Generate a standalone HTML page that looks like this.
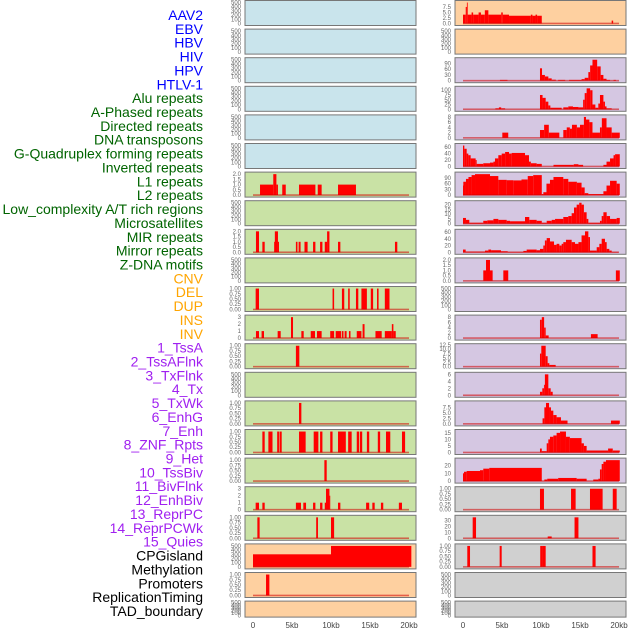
<!DOCTYPE html>
<html><head><meta charset="utf-8">
<style>
html,body{margin:0;padding:0;background:#fff;}
svg{display:block;font-family:"Liberation Sans",sans-serif;}
</style></head>
<body>
<svg id="chart" width="630" height="630" viewBox="0 0 630 630" xmlns="http://www.w3.org/2000/svg"></svg>
<script>
const labelNames = ["AAV2","EBV","HBV","HIV","HPV","HTLV-1","Alu repeats","A-Phased repeats","Directed repeats","DNA transposons","G-Quadruplex forming repeats","Inverted repeats","L1 repeats","L2 repeats","Low_complexity A/T rich regions","Microsatellites","MIR repeats","Mirror repeats","Z-DNA motifs","CNV","DEL","DUP","INS","INV","1_TssA","2_TssAFlnk","3_TxFlnk","4_Tx","5_TxWk","6_EnhG","7_Enh","8_ZNF_Rpts","9_Het","10_TssBiv","11_BivFlnk","12_EnhBiv","13_ReprPC","14_ReprPCWk","15_Quies","CPGisland","Methylation","Promoters","ReplicationTiming","TAD_boundary"];
const labelColors = ["#0000ff","#0000ff","#0000ff","#0000ff","#0000ff","#0000ff","#006400","#006400","#006400","#006400","#006400","#006400","#006400","#006400","#006400","#006400","#006400","#006400","#006400","#ffa500","#ffa500","#ffa500","#ffa500","#ffa500","#a020f0","#a020f0","#a020f0","#a020f0","#a020f0","#a020f0","#a020f0","#a020f0","#a020f0","#a020f0","#a020f0","#a020f0","#a020f0","#a020f0","#a020f0","#000","#000","#000","#000","#000"];
const panelBg = ["#c9e4ec","#c9e4ec","#c9e4ec","#c9e4ec","#c9e4ec","#c9e4ec","#c9e2a5","#c9e2a5","#c9e2a5","#c9e2a5","#c9e2a5","#c9e2a5","#c9e2a5","#c9e2a5","#c9e2a5","#c9e2a5","#c9e2a5","#c9e2a5","#c9e2a5","#fed0a0","#fed0a0","#fed0a0",
 "#fed0a0","#fed0a0","#d5c7e2","#d5c7e2","#d5c7e2","#d5c7e2","#d5c7e2","#d5c7e2","#d5c7e2","#d5c7e2","#d5c7e2","#d5c7e2","#d5c7e2","#d5c7e2","#d5c7e2","#d5c7e2","#d5c7e2","#d0d0d0","#d0d0d0","#d0d0d0","#d0d0d0","#d0d0d0"];
const T500=["0","100","200","300","400","500"], T1=["0.00","0.25","0.50","0.75","1.00"], T2=["0.0","0.5","1.0","1.5","2.0"], T3=["0","1","2","3"];
const panelTicks = [T500,T500,T500,T500,T500,T500,T2,T500,T2,T500,T1,T3,T1,T500,T1,T1,T1,T3,T1,T500,T1,T500,
 ["0.0","2.5","5.0","7.5"],T500,["0","30","60","90"],["0","25","50","75","100"],["0","2","4","6","8"],["0","20","40","60"],["0","30","60","90"],["0","5","10","15","20"],["0","20","40","60"],T2,T500,["0","2","4","6","8"],["0.0","2.5","5.0","7.5","10.0","12.5"],["0","2","4","6"],["0.0","2.5","5.0","7.5"],["0","5","10","15"],["0","10","20"],T1,["0","10","20","30"],T1,T500,T500];
const panelSegs = [[],[],[],[],[],[],
 [[0.9,2.6,1],[2.6,3.0,2],[3.0,3.2,1],[3.75,4.2,1],[5.9,8.0,1],[8.3,8.8,1],[10.9,13.2,1]],
 [],
 [[0.38,0.77,2],[1.2,1.5,1],[2.7,2.8,1],[2.8,3.2,2],[3.2,3.33,1],[5.5,5.7,1],[5.85,6.1,1],[6.6,7.0,1],[7.7,8.0,1],[8.6,8.9,1],[9.2,9.5,1],[9.5,9.8,2],[10.9,11.2,1],[18.2,18.5,1]],
 [],
 [[0.34,0.77,1],[10.2,10.4,1],[11.4,11.7,1],[12.2,12.4,1],[13.2,13.5,1],[13.9,14.6,1],[15.1,15.4,1],[15.9,16.1,1],[16.9,17.5,1]],
 [[0.38,0.77,1],[1.1,1.41,1],[3.16,3.55,1],[4.87,5.13,3],[6.2,6.5,1],[7.4,7.95,1],[8.2,8.8,1],[9.9,10.4,1],[10.6,11.3,1],[11.4,11.6,1],[11.75,12.0,1],[12.3,12.5,1],[13.3,13.9,1],[14.05,14.3,2],[15.7,16.5,1],[16.9,17.8,1],[17.8,18.0,2],[18.0,18.3,1]],
 [[5.5,5.94,1]],
 [],
 [[5.9,6.2,1]],
 [[1.2,1.5,1],[1.97,2.5,1],[3.1,3.33,1],[3.4,3.68,1],[5.9,6.75,1],[7.78,8.38,1],[8.6,8.9,1],[9.9,10.2,1],[10.9,11.9,1],[12.2,12.65,1],[13.3,13.6,1],[13.7,14.0,1],[14.6,14.9,1],[16.0,16.3,1],[17.05,17.6,1],[19.1,19.5,1]],
 [[9.15,9.45,1]],
 [[0.34,0.77,1],[1.2,1.5,1],[5.5,6.15,1],[6.45,6.8,1],[7.7,8.0,1],[8.6,8.9,1],[9.2,9.36,1],[9.36,9.8,3],[9.8,9.9,2],[10.9,11.2,1],[14.5,14.9,1],[15.3,15.6,1],[16.4,16.7,1],[18.7,19.1,1]],
 [[0.56,0.85,1],[8.1,8.33,1],[10.0,10.4,1]],
 [[0,10.0,300],[10.0,20.3,500]],
 [[1.67,2.1,1]],
 [],
 [[0,0.35,4],[0.35,0.5,7.5],[0.5,0.6,9.5],[0.6,1.1,4],[1.1,1.3,5],[1.3,2.0,4],[2.0,2.3,5],[2.3,2.8,4],[2.8,3.25,6],[3.25,4.9,4],[4.9,5.1,5],[5.1,5.9,4],[5.9,8.7,3.5],[8.7,8.9,4],[8.9,9.3,3.5],[9.3,9.5,4],[9.5,10.1,3.5],[19.06,19.25,1.3]],
 [],
 [[4.74,5.7,4],[9.87,10.13,65],[10.13,10.5,30],[10.5,10.94,22],[10.94,11.37,12],[11.37,11.9,5],[12.2,13.1,4],[13.6,15.2,4],[15.2,15.6,8],[15.6,16.07,15],[16.07,16.3,45],[16.3,16.6,80],[16.6,17.2,110],[17.2,17.65,75],[17.65,18.0,30],[18.0,18.4,10],[18.4,18.85,4],[19.3,19.6,4]],
 [[4.15,4.6,5],[4.6,4.9,10],[4.9,5.4,5],[9.87,10.2,75],[10.2,10.6,60],[10.6,10.94,40],[10.94,11.2,20],[11.2,12.65,8],[12.86,13.5,10],[13.5,14.1,15],[14.1,14.8,12],[14.8,15.4,10],[15.4,15.6,50],[15.6,15.85,85],[15.85,16.3,110],[16.3,16.6,100],[16.6,16.97,25],[16.97,17.35,8],[17.35,17.56,30],[17.56,18.0,75],[18.0,18.2,40],[18.2,18.4,15],[18.4,19.06,5]],
 [[5.04,5.8,2],[9.87,10.4,3],[10.4,11.0,5],[11.0,12.35,2],[12.86,13.3,3],[13.3,13.7,4],[13.7,13.97,3.5],[13.97,14.6,5],[14.6,15.0,4],[15.0,15.5,5],[15.5,15.77,8],[15.77,16.2,7],[16.2,16.6,6],[16.6,17.56,2],[17.56,17.8,4],[17.8,18.4,7.5],[18.4,19.06,4],[19.06,20.1,2]],
 [[0,0.17,65],[0.17,0.47,55],[0.47,0.68,40],[0.68,0.98,35],[0.98,1.62,25],[1.62,1.75,20],[1.75,2.6,8],[2.6,3.46,10],[3.46,3.9,12],[3.9,4.1,15],[4.1,4.53,25],[4.53,4.96,35],[4.96,5.4,40],[5.4,5.9,45],[5.9,6.24,40],[6.24,7.95,42],[7.95,8.46,35],[8.46,8.7,15],[8.7,9.44,10],[9.44,10.1,8],[11.6,14.2,5],[14.2,14.8,7],[14.8,15.4,5],[18.0,18.4,5],[18.4,18.85,15],[18.85,19.3,25],[19.3,19.5,35],[19.5,20.1,38]],
 [[0,0.04,50],[0.04,0.38,70],[0.38,0.7,85],[0.7,1.1,95],[1.1,1.54,105],[1.54,3.46,110],[3.46,4.53,100],[4.53,5.6,80],[5.6,6.45,78],[6.45,7.5,77],[7.5,8.3,82],[8.3,9.0,100],[9.0,10.1,105],[10.1,10.3,5],[10.3,10.7,15],[10.7,11.15,60],[11.15,11.6,80],[11.6,12.86,95],[12.86,13.5,85],[13.5,14.6,70],[14.6,15.2,65],[15.2,15.6,40],[15.6,16.07,10],[16.07,18.0,5],[18.0,18.4,20],[18.4,18.85,50],[18.85,19.7,75],[19.7,20.1,60]],
 [[0,0.38,6],[0.38,0.81,4],[0.81,2.6,1],[2.6,3.12,3],[3.12,3.9,3.5],[3.9,4.53,5],[4.53,5.6,4],[5.6,6.03,3],[6.03,7.95,2.5],[7.95,8.5,7],[8.5,9.44,4],[9.44,10.1,3],[10.1,10.73,1],[10.73,11.37,3],[11.37,11.8,4],[11.8,12.86,5],[12.86,13.5,7],[13.5,13.93,8],[13.93,14.23,11],[14.23,14.57,17],[14.57,14.9,20],[14.9,15.2,22],[15.2,15.5,20],[15.5,15.85,12],[15.85,16.07,5],[16.07,17.56,1],[17.56,17.78,3],[17.78,18.0,8],[18.0,18.42,12],[18.42,18.85,8],[18.85,19.7,5],[19.7,20.1,6]],
 [[0,0.34,8],[0.34,2.82,2],[2.82,3.25,5],[3.25,3.6,8],[3.6,4.87,6],[4.87,5.73,3],[5.73,7.74,1],[7.74,8.16,4],[8.16,9.44,8],[9.44,9.87,6],[9.87,10.3,10],[10.3,10.5,20],[10.5,10.73,35],[10.73,11.15,42],[11.15,11.67,32],[11.67,12.0,22],[12.0,12.35,25],[12.35,12.65,20],[12.65,12.86,25],[12.86,13.2,30],[13.2,13.93,37],[13.93,14.36,30],[14.36,14.8,25],[14.8,15.2,30],[15.2,15.64,50],[15.64,16.07,62],[16.07,16.28,45],[16.28,17.14,5],[17.14,17.48,15],[17.48,17.78,25],[17.78,18.2,40],[18.2,18.42,30],[18.42,18.76,10],[18.76,19.06,5],[19.06,19.9,1]],
 [[2.6,2.95,1],[2.95,3.46,2],[3.46,3.8,1],[5.17,5.8,1],[19.6,20.1,1]],
 [],
 [[9.87,10.1,7],[10.1,10.4,8],[10.4,10.6,4],[10.6,10.98,1],[16.4,17.26,1.5]],
 [[9.87,10.04,7.5],[10.04,10.6,12],[10.6,10.85,6],[10.85,11.07,2],[11.07,11.88,1]],
 [[9.87,10.17,1],[10.17,10.38,2],[10.38,10.5,3],[10.5,10.94,6],[10.94,11.24,2],[11.24,11.5,1]],
 [[10.2,10.43,2.5],[10.43,10.64,7.5],[10.64,11.03,9.5],[11.03,11.28,7.5],[11.28,11.58,6],[11.58,12.0,4],[12.0,12.56,3],[12.56,13.4,1.5],[18.97,20.1,1.5]],
 [[9.87,10.1,3],[10.1,10.73,1],[10.73,10.94,7],[10.94,11.15,10],[11.15,11.58,12],[11.58,12.0,13],[12.0,12.44,15],[12.44,13.2,16],[13.2,13.7,12],[13.7,15.2,11],[15.2,15.5,7],[15.5,15.85,5],[15.85,18.6,1.5],[18.6,19.2,3],[19.2,20.1,1.5]],
 [[0,0.13,10],[0.13,0.47,12],[0.47,2.18,13],[2.18,2.6,14],[2.6,3.37,16],[3.37,10.1,17],[10.43,10.8,2],[10.8,12.2,3],[12.2,14.57,4],[14.57,15.85,3],[16.7,17.35,2],[17.35,17.56,3],[17.56,17.78,15],[17.78,18.0,22],[18.0,18.33,25],[18.33,20.1,27]],
 [[9.87,10.38,1],[13.85,14.44,1],[16.28,17.9,1],[19.2,19.7,1]],
 [[1.24,1.67,35],[10.86,11.37,3],[14.3,14.8,35]],
 [[0.55,0.9,1],[4.7,4.96,1],[9.9,10.2,1],[10.2,10.6,1],[16.6,17.0,1]],
 [],[]];
const xTickLabels = ["0","5kb","10kb","15kb","20kb"];
const xTickValues = [0,5,10,15,20];

const NS="http://www.w3.org/2000/svg";
const svg=document.getElementById('chart');
function mk(tag,attrs,parent){const e=document.createElementNS(NS,tag);for(const k in attrs)e.setAttribute(k,attrs[k]);(parent||svg).appendChild(e);return e;}

// labels
labelNames.forEach((n,i)=>{
  const t=mk('text',{x:203,y:15+i*13.86+5,'text-anchor':'end','font-size':14,fill:labelColors[i]});
  t.textContent=n;
  
  
});

const colX=[245,455], colW=171, kbPx=7.8;
for(let p=0;p<44;p++){
  const col=p<22?0:1, row=p%22;
  const top=row*28.6, h=row===21?16:25;
  const x0=colX[col], zeroX=x0+8;
  const g=mk('g',{});
  
  
  const bg=mk('rect',{x:x0,y:top+0.5,width:colW,height:h,fill:panelBg[p],stroke:'#777','stroke-width':1},g);
  
  
  const segs=panelSegs[p], ticks=panelTicks[p].map(Number);
  let maxV=segs.length?Math.max(...segs.map(s=>s[2])):ticks[ticks.length-1];
  const yMin=-0.05*maxV, yMax=1.05*maxV;
  const pTop=top+1.5, pBot=top+h-0.5;
  const yS=v=>pBot-(v-yMin)/(yMax-yMin)*(pBot-pTop);
  const xS=kb=>zeroX+kb*kbPx;
  const clipId='c'+p;
  const cp=mk('clipPath',{id:clipId},g);mk('rect',{x:x0+0.5,y:top+1,width:colW-1,height:h-1},cp);
  const dg=mk('g',{'clip-path':'url(#'+clipId+')'},g);
  segs.forEach(s=>{
    const r=mk('rect',{x:xS(s[0]),y:yS(s[2]),width:Math.max(0.8,xS(s[1])-xS(s[0])),height:yS(0)-yS(s[2]),fill:'#ff0000'},dg);
    
    
  });
  if(segs.length){
    const bl=mk('rect',{x:xS(0),y:yS(0)-0.8,width:xS(20)-xS(0),height:1.6,fill:'rgba(210,0,0,0.55)'},dg);
    
    
  }
  panelTicks[p].forEach((lab,k)=>{
    const t=mk('text',{x:x0-4,y:yS(ticks[k])+2,'text-anchor':'end','font-size':6,fill:'#666'},g);
    t.textContent=lab;
    
    
  });
}
// x axes
[0,1].forEach(col=>{
  const zeroX=colX[col]+8;
  xTickValues.forEach((v,k)=>{
    const t=mk('text',{x:zeroX+v*kbPx,y:628,'text-anchor':'middle','font-size':8,fill:'#444'});
    t.textContent=xTickLabels[k];
    
    
  });
});
</script>
</body></html>
